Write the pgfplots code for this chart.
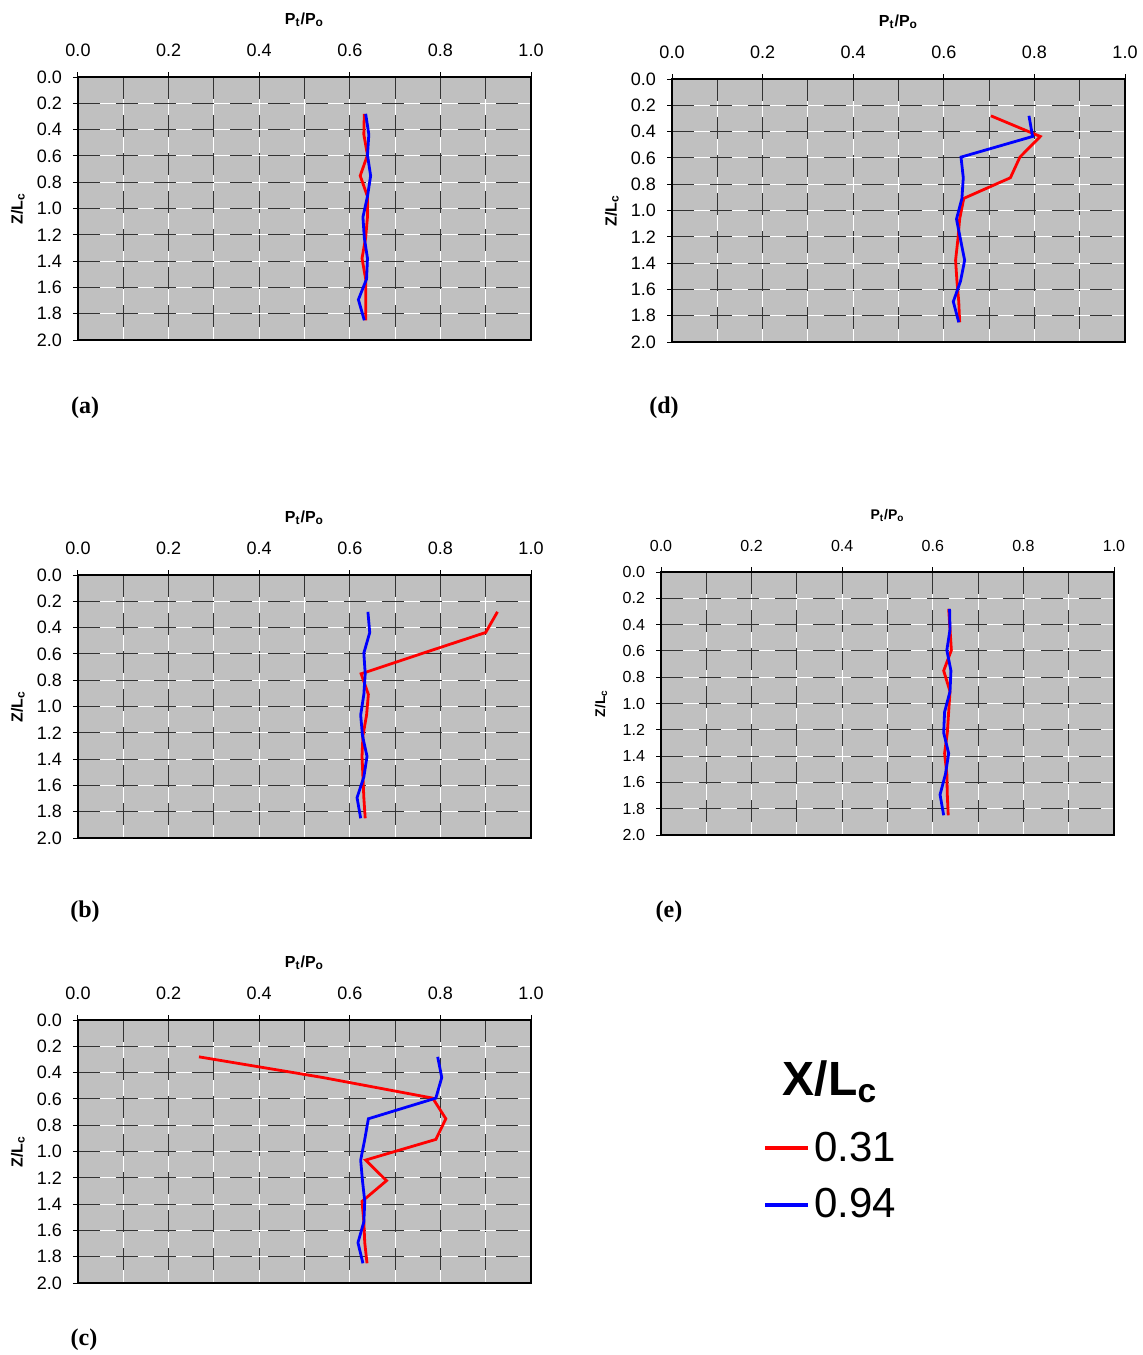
\documentclass[border=0pt]{standalone}
\usepackage{fontspec}
\setmainfont{Liberation Sans}
\newfontfamily\timesfont{Liberation Serif}
\usepackage{pgfplots}
\pgfplotsset{compat=1.18}
\definecolor{bg}{HTML}{C0C0C0}
\definecolor{gline}{HTML}{333333}

\pgfplotsset{
  mygrid/.style={white, line width=0.55pt,
    postaction={draw=gline, line width=0.55pt, dash pattern=on 11pt off 8pt}},
  panel/.style={
    scale only axis, width=226.5pt, height=131.5pt,
    xmin=0, xmax=1, ymin=0, ymax=2, y dir=reverse,
    xtick={0,0.2,0.4,0.6,0.8,1}, ytick={0,0.2,0.4,0.6,0.8,1,1.2,1.4,1.6,1.8,2},
    minor x tick num=1,
    xtick pos=right, xticklabel pos=right, ytick pos=left,
    tick align=outside, major tick length=2.5pt, minor tick length=0pt,
    tick style={black, line width=0.5pt},
    grid=both, major grid style={mygrid}, minor grid style={mygrid},
    axis background/.style={fill=bg},
    axis line style={black, line width=0.6pt},
    xticklabel style={yshift=4pt},
    yticklabel style={xshift=-2pt},
    ticklabel style={font=\fontsize{9}{11}\selectfont},
    xticklabel={\pgfmathprintnumber[fixed,fixed zerofill,precision=1]{\tick}},
    yticklabel={\pgfmathprintnumber[fixed,fixed zerofill,precision=1]{\tick}},
    /pgf/number format/assume math mode=true,
    xlabel={\textbf{P\textsubscript{t}/P\textsubscript{o}}},
    ylabel={\textbf{Z/L\textsubscript{c}}},
    label style={font=\fontsize{8}{10}\selectfont},
    xlabel style={at={(axis description cs:0.5,1)}, anchor=center, yshift=28.5pt},
    ylabel style={at={(axis description cs:-0.1325,0.5)}, anchor=center, rotate=0},
    every axis plot/.append style={line width=1.4pt, no marks},
  }
}

\begin{document}
\begin{tikzpicture}
\useasboundingbox (0,0) rectangle (571.5pt,-677.5pt);

% (a)
\begin{axis}[panel, at={(39pt,-38.5pt)}, anchor=north west]
\addplot[red] coordinates {(0.632,0.28)(0.631,0.437)(0.639,0.594)(0.623,0.751)(0.639,0.908)(0.639,1.065)(0.635,1.222)(0.627,1.379)(0.635,1.536)(0.635,1.693)(0.635,1.85)};
\addplot[blue] coordinates {(0.635,0.28)(0.642,0.437)(0.639,0.594)(0.646,0.751)(0.639,0.908)(0.629,1.065)(0.632,1.222)(0.639,1.379)(0.637,1.536)(0.619,1.693)(0.632,1.85)};
\end{axis}

% (d)
\begin{axis}[panel, at={(336pt,-39.5pt)}, anchor=north west]
\addplot[red] coordinates {(0.704,0.28)(0.813,0.437)(0.768,0.594)(0.747,0.751)(0.644,0.908)(0.635,1.065)(0.631,1.222)(0.626,1.379)(0.629,1.536)(0.633,1.693)(0.635,1.85)};
\addplot[blue] coordinates {(0.788,0.28)(0.796,0.437)(0.638,0.594)(0.643,0.751)(0.640,0.908)(0.628,1.065)(0.637,1.222)(0.646,1.379)(0.637,1.536)(0.621,1.693)(0.633,1.85)};
\end{axis}

% (b)
\begin{axis}[panel, at={(39pt,-287.5pt)}, anchor=north west]
\addplot[red] coordinates {(0.926,0.28)(0.900,0.437)(0.762,0.594)(0.625,0.751)(0.641,0.908)(0.637,1.065)(0.629,1.222)(0.627,1.379)(0.629,1.536)(0.631,1.693)(0.634,1.85)};
\addplot[blue] coordinates {(0.640,0.28)(0.644,0.437)(0.631,0.594)(0.634,0.751)(0.631,0.908)(0.624,1.065)(0.628,1.222)(0.638,1.379)(0.631,1.536)(0.616,1.693)(0.624,1.85)};
\end{axis}

% (e)
\begin{axis}[panel, at={(330.5pt,-286pt)}, anchor=north west,
  ticklabel style={font=\fontsize{8}{10}\selectfont},
  label style={font=\fontsize{7}{9}\selectfont}]
\addplot[red] coordinates {(0.635,0.28)(0.638,0.437)(0.641,0.594)(0.624,0.751)(0.638,0.908)(0.635,1.065)(0.632,1.222)(0.626,1.379)(0.631,1.536)(0.632,1.693)(0.634,1.85)};
\addplot[blue] coordinates {(0.637,0.28)(0.638,0.437)(0.631,0.594)(0.640,0.751)(0.638,0.908)(0.626,1.065)(0.624,1.222)(0.635,1.379)(0.628,1.536)(0.616,1.693)(0.624,1.85)};
\end{axis}

% (c)
\begin{axis}[panel, at={(39pt,-510pt)}, anchor=north west,
  legend style={at={(axis description cs:1.512,0.405)}, anchor=west,
    draw=none, fill=none, inner sep=0pt, row sep=8pt,
    font=\fontsize{21}{25}\selectfont},
  legend cell align=left,
  legend image code/.code={\draw[#1, line width=2pt] (0pt,0pt) -- (21.5pt,0pt);}]
\addplot[red] coordinates {(0.267,0.28)(0.540,0.437)(0.783,0.594)(0.812,0.751)(0.790,0.908)(0.635,1.065)(0.681,1.222)(0.627,1.379)(0.631,1.536)(0.633,1.693)(0.638,1.85)};
\addplot[blue] coordinates {(0.794,0.28)(0.803,0.437)(0.790,0.594)(0.641,0.751)(0.633,0.908)(0.624,1.065)(0.628,1.222)(0.633,1.379)(0.631,1.536)(0.618,1.693)(0.629,1.85)};
\legend{0.31,0.94}
\end{axis}

\node[font=\bfseries\fontsize{24}{28}\selectfont] at (415pt,-541pt) {X/L\textsubscript{c}};

\begin{scope}[font=\timesfont\bfseries\fontsize{12}{14}\selectfont]
\node at (42.5pt,-204pt) {(a)};
\node at (332pt,-204pt) {(d)};
\node at (42.5pt,-456pt) {(b)};
\node at (334.5pt,-456pt) {(e)};
\node at (42pt,-670pt) {(c)};
\end{scope}
\end{tikzpicture}
\end{document}
